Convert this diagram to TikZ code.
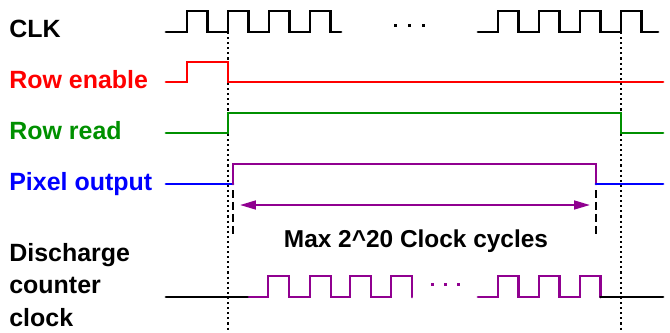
\documentclass[tikz,border=0pt]{standalone}
\usepackage{fontspec}
\setmainfont{Liberation Sans}
\usetikzlibrary{arrows.meta}
\definecolor{sigred}{RGB}{255,0,0}
\definecolor{siggreen}{RGB}{0,144,0}
\definecolor{sigblue}{RGB}{0,0,255}
\definecolor{sigpurple}{RGB}{144,0,144}
\begin{document}
\begin{tikzpicture}[x=0.02cm, y=-0.02cm,
  every node/.style={font=\fontsize{14.2}{18.4}\selectfont\bfseries, inner sep=0pt},
  wave/.style={line width=1.7pt, line cap=round},
  marker/.style={line width=1.6pt, dash pattern=on 4.5pt off 2.3pt},
  guide/.style={line width=0.6pt, dash pattern=on 1.2pt off 1.7pt}]
  \useasboundingbox (0,0) rectangle (670,332);
  % signal names
  \node[anchor=base west] (clk) at (9,37) {CLK};
  \node[anchor=base west, text=sigred] (rowen) at (9,88) {Row enable};
  \node[anchor=base west, text=siggreen] (rowrd) at (9,139) {Row read};
  \node[anchor=base west, text=sigblue] (pixout) at (9,190) {Pixel output};
  \node[anchor=north west, align=left] (dcclk) at (9,243) {Discharge\\counter\\clock};
  % guides
  \draw[guide] (228,32) -- (228,332);
  \draw[guide] (621,32) -- (621,332);
  % CLK
  \draw[wave] (166,32) foreach \r in {187,228,269,310} { -- (\r,32) -- (\r,11) -- (\r+20.5,11) -- (\r+20.5,32) } -- (341,32);
  \draw[wave] (478,32) foreach \r in {498,539,580,621} { -- (\r,32) -- (\r,11) -- (\r+20.5,11) -- (\r+20.5,32) } -- (658,32);
  \foreach \d in {395,409,423} \fill (\d-1.5,23.5) rectangle ++(3,3);
  % row enable
  \draw[wave, sigred] (166,82) -- (187,82) -- (187,62) -- (228,62) -- (228,82) -- (663,82);
  % row read
  \draw[wave, siggreen] (166,133) -- (228,133) -- (228,113) -- (621,113) -- (621,133) -- (663,133);
  % pixel output
  \draw[wave, sigblue] (166,184) -- (233,184);
  \draw[wave, sigpurple] (233,184) -- (233,164) -- (596,164) -- (596,184);
  \draw[wave, sigblue] (596,184) -- (663,184);
  % integration window
  \draw[marker] (233,190) -- (233,237);
  \draw[marker] (596,190) -- (596,237);
  \coordinate (lmark) at (233,205);
  \coordinate (rmark) at (596,205);
  \draw[sigpurple, line width=1.1pt, {Triangle[length=9pt,width=5pt]}-{Triangle[length=9pt,width=5pt]}, shorten <=0.14cm, shorten >=0.12cm] (lmark) -- (rmark);
  \node[anchor=base, font=\fontsize{13.9}{16}\selectfont\bfseries] (maxcyc) at (416,247) {Max 2\textasciicircum20 Clock cycles};
  % discharge counter clock
  \draw[wave] (166,297) -- (249,297);
  \draw[wave, sigpurple] (249,297) foreach \r in {268,310,350,391} { -- (\r,297) -- (\r,276) -- (\r+21,276) -- (\r+21,297) };
  \draw[wave, sigpurple] (478,297) foreach \r in {498,539,580} { -- (\r,297) -- (\r,276) -- (\r+20.5,276) -- (\r+20.5,297) };
  \draw[wave] (600.5,297) -- (663,297);
  \foreach \d in {432,445,458} \fill[sigpurple] (\d-1.5,282.5) rectangle ++(3,3);
\end{tikzpicture}
\end{document}
